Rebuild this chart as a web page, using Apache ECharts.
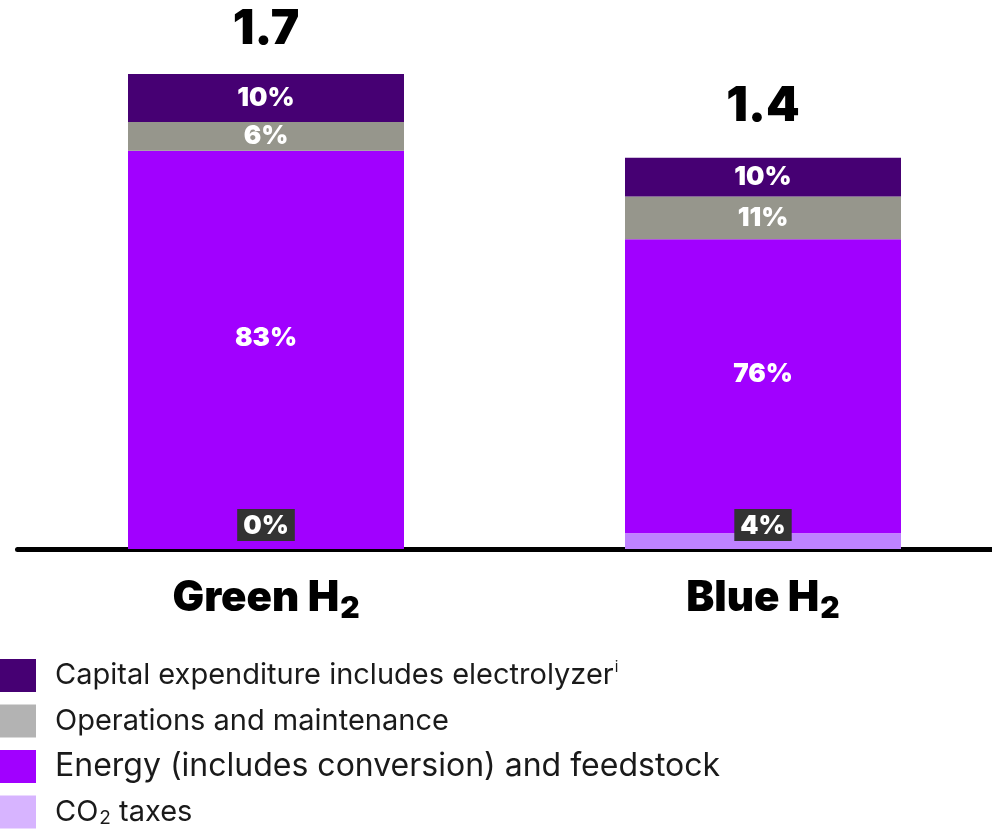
<!DOCTYPE html>
<html>
<head>
<meta charset="utf-8">
<script src="https://cdn.jsdelivr.net/npm/echarts@6/dist/echarts.min.js"></script>
<style>
  html, body { margin: 0; padding: 0; background: #fff; }
  #chart { width: 992px; height: 829px; }
</style>
</head>
<body>
<div id="chart"></div>
<script>
// Hydrogen production cost: total per route and share of each cost component
const categories = ['Green H₂', 'Blue H₂'];
const totals = [1.7, 1.4];
const capexPct = [10, 10];
const omPct = [6, 11];
const energyPct = [83, 76];
const co2Pct = [0, 4];

const seriesNames = [
  'Capital expenditure includes electrolyzer',
  'Operations and maintenance',
  'Energy (includes conversion) and feedstock',
  'CO₂ taxes'
];

const FONT = 'Inter, Roboto, sans-serif';

// rounded shares do not always add up to 100, so each stack is scaled to its total
const pctSums = totals.map((_, i) => capexPct[i] + omPct[i] + energyPct[i] + co2Pct[i]);

function toValues(pcts) {
  return pcts.map((p, i) => totals[i] * p / pctSums[i]);
}

const pctLabel = (pcts) => (p) => pcts[p.dataIndex] + '%';

const baseLabel = {
  show: true,
  color: '#fff',
  fontFamily: FONT,
  fontWeight: 900,
  fontSize: 26
};

const chart = echarts.init(document.getElementById('chart'), null, { renderer: 'canvas' });

chart.setOption({
  animation: false,
  backgroundColor: '#fff',
  grid: {
    left: 17.5, width: 994, top: 74, bottom: 280,
    containLabel: false,
    outerBoundsMode: 'none'
  },
  xAxis: {
    type: 'category',
    data: categories,
    axisLine: { show: true, lineStyle: { color: '#000', width: 5 } },
    axisTick: { show: false },
    axisLabel: {
      margin: 23,
      formatter: (v) => v.replace('₂', '{sub|2}'),
      rich: {
        sub: { fontFamily: FONT, fontWeight: 900, fontSize: 30, color: '#000', padding: [22, 0, 0, 1] }
      },
      fontFamily: FONT,
      fontWeight: 900,
      fontSize: 42,
      color: '#000'
    }
  },
  yAxis: { type: 'value', min: 0, max: 1.7, show: false },
  legend: {
    orient: 'vertical',
    left: 0,
    top: 659,
    padding: 0,
    icon: 'rect',
    itemWidth: 36,
    itemHeight: 33,
    itemGap: 12.5,
    selectedMode: false,
    textStyle: {
      fontFamily: FONT,
      fontSize: 29,
      color: '#1a1a1a',
      lineHeight: 33,
      padding: [0, 0, 0, 14],
      rich: {
        sup: { fontFamily: FONT, fontSize: 15, color: '#1a1a1a', padding: [0, 0, 16, 1] },
        sub: { fontFamily: FONT, fontSize: 19, color: '#1a1a1a', padding: [12, 0, 0, 1] }
      }
    },
    formatter: (name) => name
      .replace('electrolyzer', 'electrolyzer{sup|i}')
      .replace('CO₂', 'CO{sub|2}'),
    data: [
      { name: seriesNames[0], itemStyle: { color: '#460073' } },
      { name: seriesNames[1], itemStyle: { color: '#b3b3b3' } },
      { name: seriesNames[2], itemStyle: { color: '#a100ff' }, textStyle: { fontSize: 32 } },
      { name: seriesNames[3], itemStyle: { color: '#d7b4ff' } }
    ]
  },
  series: [
    {
      name: seriesNames[3],
      type: 'bar',
      stack: 'cost',
      barWidth: 276,
      itemStyle: { color: '#be82ff' },
      data: toValues(co2Pct),
      label: Object.assign({}, baseLabel, {
        position: 'insideBottom',
        distance: 8,
        backgroundColor: '#333',
        padding: [4, 6, 2, 6],
        formatter: pctLabel(co2Pct)
      }),
      z: 5
    },
    {
      name: seriesNames[2],
      type: 'bar',
      stack: 'cost',
      itemStyle: { color: '#a100ff' },
      data: toValues(energyPct),
      label: Object.assign({}, baseLabel, {
        position: 'inside',
        offset: [0, -12],
        formatter: pctLabel(energyPct)
      })
    },
    {
      name: seriesNames[1],
      type: 'bar',
      stack: 'cost',
      itemStyle: { color: '#96968c' },
      data: toValues(omPct),
      label: Object.assign({}, baseLabel, {
        position: 'inside',
        formatter: pctLabel(omPct)
      })
    },
    {
      name: seriesNames[0],
      type: 'bar',
      stack: 'cost',
      itemStyle: { color: '#460073' },
      data: toValues(capexPct),
      label: Object.assign({}, baseLabel, {
        position: 'inside',
        formatter: pctLabel(capexPct)
      })
    },
    {
      // zero-height cap carrying the route total above each stack
      name: 'total',
      type: 'bar',
      stack: 'cost',
      itemStyle: { color: 'transparent' },
      data: totals.map((t, i) => ({
        value: 0,
        label: { distance: i === 0 ? 20 : 27 }
      })),
      label: {
        show: true,
        position: 'top',
        fontFamily: FONT,
        fontWeight: 900,
        fontSize: 48,
        lineHeight: 48,
        color: '#000',
        formatter: (p) => totals[p.dataIndex].toFixed(1)
      }
    }
  ]
});
</script>
</body>
</html>
